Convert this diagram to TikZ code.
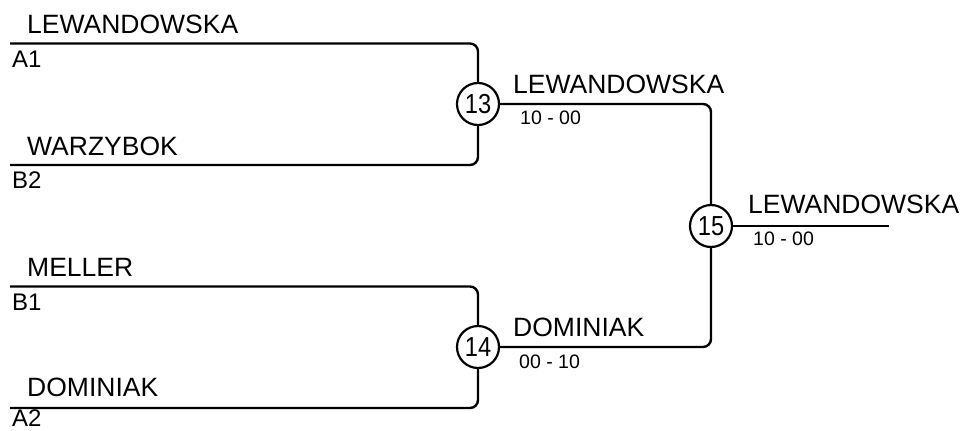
\documentclass[tikz,border=0pt]{standalone}
\usepackage{fontspec}
\setmainfont{Liberation Sans}
\usetikzlibrary{positioning}

\newcommand{\matchno}[1]{\scalebox{0.86}[1]{#1}}

\begin{document}
\begin{tikzpicture}[x=1pt, y=-1pt,
	match/.style={draw, circle, line width=2.2pt, minimum size=42pt, inner sep=0pt, font=\fontsize{27.5}{30}\selectfont},
	player/.style={anchor=base west, inner sep=0pt, font=\fontsize{26.5}{30}\selectfont},
	seed/.style={anchor=base west, inner sep=0pt, font=\fontsize{24}{28}\selectfont},
	score/.style={anchor=base west, inner sep=0pt, font=\fontsize{19.5}{23}\selectfont},
	wire/.style={line width=2.4pt, rounded corners=8pt}]
	\useasboundingbox (0,0) rectangle (964,431);
	
	% matches
	\node[match] (m13) at (478,104) {\matchno{13}};
	\node[match] (m14) at (478,347) {\matchno{14}};
	\node[match] (m15) at (711,226) {\matchno{15}};
	
	\coordinate (a1) at (10,43.5);
	\coordinate (b2) at (10,165);
	\coordinate (b1) at (10,286.5);
	\coordinate (a2) at (10,408);
	\coordinate (fin) at (889,226);
	
	\draw[wire] (a1) -| (m13.north);
	\draw[wire] (b2) -| (m13.south);
	\draw[wire] (b1) -| (m14.north);
	\draw[wire] (a2) -| (m14.south);
	\draw[wire] (m13.east) -| (m15.north);
	\draw[wire] (m14.east) -| (m15.south);
	\draw[wire] (m15.east) -- (fin);
	
	% first round
	\node[player] (p1) at (27,33) {LEWANDOWSKA};
	\node[seed] (s1) at (12,67) {A1};
	\node[player] (p2) at (27,155) {WARZYBOK};
	\node[seed] (s2) at (12,188) {B2};
	\node[player] (p3) at (27,276) {MELLER};
	\node[seed] (s3) at (12,310) {B1};
	\node[player] (p4) at (27,396) {DOMINIAK};
	\node[seed] (s4) at (12,426.5) {A2};
	
	% winners and scores
	\node[player] (w13) at (513,93) {LEWANDOWSKA};
	\node[score] (r13) at (520,124) {10 - 00};
	\node[player] (w14) at (513,336) {DOMINIAK};
	\node[score] (r14) at (519,368) {00 - 10};
	\node[player] (w15) at (748,213) {LEWANDOWSKA};
	\node[score] (r15) at (753,245) {10 - 00};
\end{tikzpicture}
\end{document}
